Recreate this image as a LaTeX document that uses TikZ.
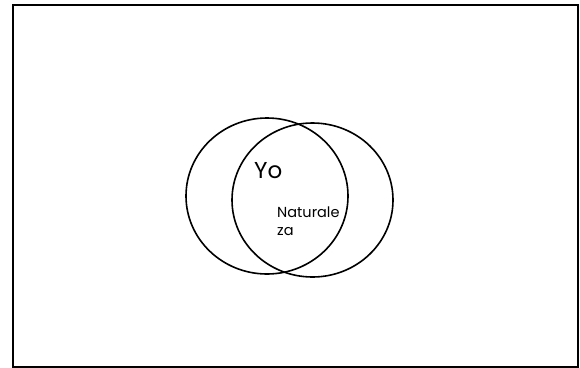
\documentclass[tikz,border=0pt]{standalone}
\usepackage{fontspec}
\setmainfont{Poppins}
\usetikzlibrary{shapes.geometric}
\begin{document}
\begin{tikzpicture}[x=1pt,y=-1pt,
  ring/.style={draw=black,line width=1.6pt},
  lbl/.style={inner sep=0pt,anchor=base west}]
\useasboundingbox (0,0) rectangle (580,367);
\node[draw=black,line width=1.5pt,inner sep=0pt,minimum width=565pt,minimum height=362pt,anchor=north west] (frame) at (12,4) {};
\node[ring,ellipse,minimum width=162pt,minimum height=156pt,inner sep=0pt] (yo) at (267,196) {};
\node[ring,ellipse,minimum width=161pt,minimum height=154pt,inner sep=0pt] (nat) at (312.5,200) {};
\node[lbl,font=\fontsize{23}{24}\selectfont] (t1) at (254,178) {Yo};
\node[lbl,font=\fontsize{14.5}{18}\selectfont] (t2) at (277,217) {Naturale};
\node[lbl,font=\fontsize{14.5}{18}\selectfont] (t3) at (277,235) {za};
\end{tikzpicture}
\end{document}
